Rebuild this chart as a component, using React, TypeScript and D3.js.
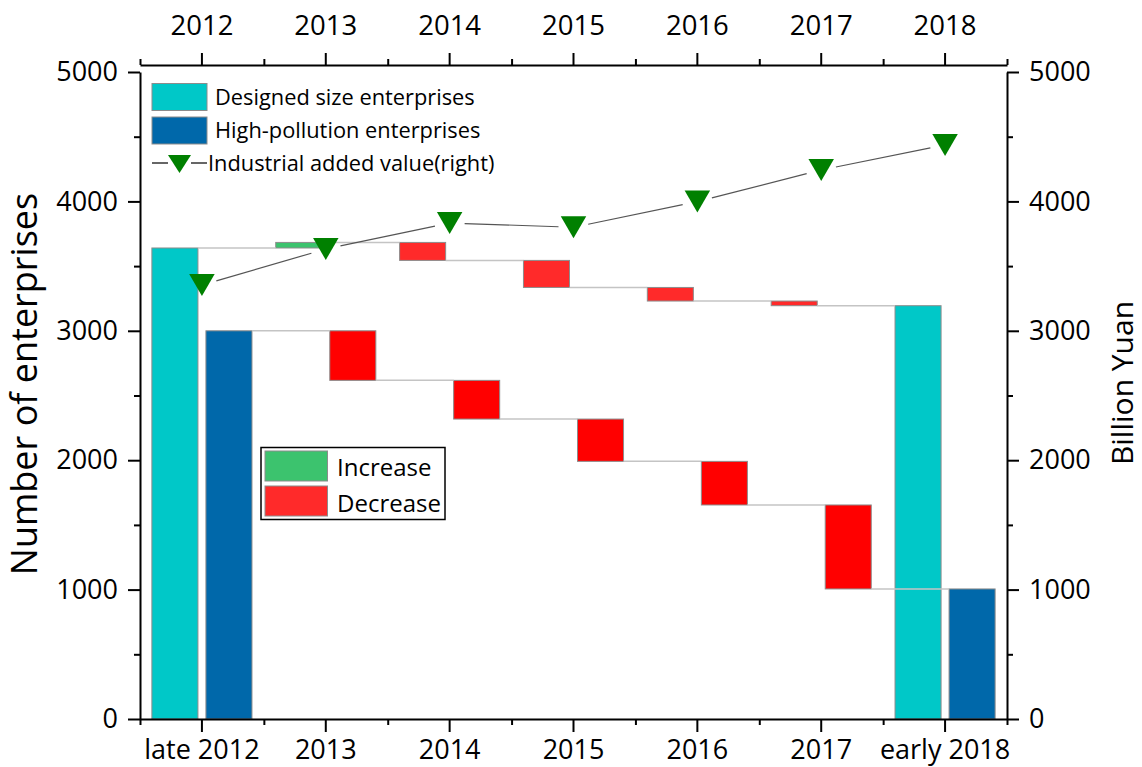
import React, { useEffect, useRef } from "react";
import * as d3 from "d3";

// ---------- data ----------
const categories = ["late 2012", "2013", "2014", "2015", "2016", "2017", "early 2018"];
const topLabels = ["2012", "2013", "2014", "2015", "2016", "2017", "2018"];
// running totals of the two waterfalls (number of enterprises)
const designedLevels = [3640, 3683, 3544, 3335, 3230, 3194, 3194];
const pollutionLevels = [3000, 2617, 2318, 1991, 1654, 1005, 1005];
// industrial added value (billion yuan, right axis)
const addedValue = [3354, 3632, 3833, 3800, 3999, 4243, 4436];
const yMajorTicks = [0, 1000, 2000, 3000, 4000, 5000];
const yMinorTicks = [500, 1500, 2500, 3500, 4500];

const seriesNames = ["designed", "pollution"];

// ---------- layout / style ----------
const W = 1142;
const H = 767;
const X0 = 140;
const X1 = 1007;
const Y0 = 719;
const Y1 = 72;
const TOP_Y = 65;
const FONT = "'Open Sans', 'Noto Sans', 'DejaVu Sans', sans-serif";

const C = {
  designed: "#00C8C8",
  pollution: "#0068AA",
  inc: "#3CC36E",
  decUpper: "#FF2A2A",
  decLower: "#FF0000",
  barStroke: "#8C8C8C",
  connector: "#C4C4C4",
  marker: "#008000",
  line: "#555555",
};

function triPath(cx: number, cy: number, w: number, h: number) {
  return `M${cx - w / 2},${cy - h / 2}L${cx + w / 2},${cy - h / 2}L${cx},${cy + h / 2}Z`;
}

export default function App() {
  const ref = useRef<SVGSVGElement>(null);

  useEffect(() => {
    const svg = d3.select(ref.current);
    svg.selectAll("*").remove();

    const x = d3.scaleBand<string>().domain(categories).range([X0, X1]).padding(0);
    const inner = d3
      .scaleBand<string>()
      .domain(seriesNames)
      .range([0, x.bandwidth()])
      .paddingInner(0.148)
      .paddingOuter(0.22);
    const y = d3.scaleLinear().domain([0, 5000]).range([Y0, Y1]);
    const yR = d3.scaleLinear().domain([0, 5000]).range([Y0, Y1]);
    const xc = (i: number) => (x(categories[i]) as number) + x.bandwidth() / 2;

    const last = categories.length - 1;
    const seriesData = [
      { name: "designed", levels: designedLevels, base: C.designed, dec: C.decUpper },
      { name: "pollution", levels: pollutionLevels, base: C.pollution, dec: C.decLower },
    ];

    const gBars = svg.append("g");
    const gConn = svg.append("g");

    seriesData.forEach((s) => {
      const bars = s.levels.map((lv, i) => {
        const isTotal = i === 0 || i === last;
        const a = isTotal ? 0 : s.levels[i - 1];
        const b = lv;
        const fill = isTotal ? s.base : b > a ? C.inc : s.dec;
        const bx = (x(categories[i]) as number) + (inner(s.name) as number);
        return { bx, a, b, fill };
      });
      gBars
        .selectAll(null)
        .data(bars)
        .enter()
        .append("rect")
        .attr("x", (d) => d.bx)
        .attr("width", inner.bandwidth())
        .attr("y", (d) => y(Math.max(d.a, d.b)))
        .attr("height", (d) => Math.abs(y(d.a) - y(d.b)))
        .attr("fill", (d) => d.fill)
        .attr("stroke", C.barStroke)
        .attr("stroke-width", 1);

      const conns = s.levels.slice(0, last).map((lv, i) => ({
        x1: bars[i].bx + inner.bandwidth(),
        x2: bars[i + 1].bx,
        yv: lv,
      }));
      gConn
        .selectAll(null)
        .data(conns)
        .enter()
        .append("line")
        .attr("x1", (d) => d.x1)
        .attr("x2", (d) => d.x2)
        .attr("y1", (d) => y(d.yv))
        .attr("y2", (d) => y(d.yv))
        .attr("stroke", C.connector)
        .attr("stroke-width", 1.5);
    });

    // line with gaps around markers
    const pts = addedValue.map((v, i) => [xc(i), yR(v)] as [number, number]);
    const gLine = svg.append("g");
    const gap = 15;
    for (let i = 0; i < pts.length - 1; i++) {
      const [ax, ay] = pts[i];
      const [bx, by] = pts[i + 1];
      const len = Math.hypot(bx - ax, by - ay);
      const ux = (bx - ax) / len;
      const uy = (by - ay) / len;
      gLine
        .append("path")
        .attr(
          "d",
          d3.line()([
            [ax + ux * gap, ay + uy * gap],
            [bx - ux * gap, by - uy * gap],
          ]) as string
        )
        .attr("stroke", C.line)
        .attr("stroke-width", 1.2)
        .attr("fill", "none");
    }
    svg
      .append("g")
      .selectAll(null)
      .data(pts)
      .enter()
      .append("path")
      .attr("d", (d) => triPath(d[0], d[1], 25.5, 22))
      .attr("fill", C.marker);

    // ---------- axes ----------
    const styleAxis = (g: any, fs: number) => {
      g.selectAll(".domain").attr("stroke", "#000").attr("stroke-width", 2);
      g.selectAll(".tick line").attr("stroke", "#000").attr("stroke-width", 2);
      g.selectAll("text").attr("font-family", FONT).attr("font-size", fs).attr("fill", "#000");
      g.attr("font-family", FONT);
    };

    const boundaries = [...categories.map((c) => x(c) as number), X1];
    const xLin = d3.scaleLinear().domain([X0, X1]).range([X0, X1]);

    // bottom
    const gB = svg.append("g").attr("transform", `translate(0,${Y0})`);
    gB.call(d3.axisBottom(xLin).tickValues(boundaries).tickSize(6).tickSizeOuter(0).tickFormat(() => ""));
    styleAxis(gB, 27);
    const gB2 = svg.append("g").attr("transform", `translate(0,${Y0})`);
    gB2.call(d3.axisBottom(x).tickSize(13).tickSizeOuter(0).tickPadding(8));
    styleAxis(gB2, 27);
    gB2.select(".domain").remove();

    // top
    const gT = svg.append("g").attr("transform", `translate(0,${TOP_Y})`);
    gT.call(d3.axisTop(xLin).tickValues(boundaries).tickSize(6).tickSizeOuter(0).tickFormat(() => ""));
    styleAxis(gT, 27);
    const gT2 = svg.append("g").attr("transform", `translate(0,${TOP_Y})`);
    gT2.call(
      d3
        .axisTop(x)
        .tickSize(12)
        .tickSizeOuter(0)
        .tickPadding(18)
        .tickFormat((d) => topLabels[categories.indexOf(d as string)])
    );
    styleAxis(gT2, 27.5);
    gT2.select(".domain").remove();

    // left
    const gL = svg.append("g").attr("transform", `translate(${X0},0)`);
    gL.call(d3.axisLeft(y).tickValues(yMinorTicks).tickSize(6).tickSizeOuter(0).tickFormat(() => ""));
    styleAxis(gL, 27);
    const gL2 = svg.append("g").attr("transform", `translate(${X0},0)`);
    gL2.call(d3.axisLeft(y).tickValues(yMajorTicks).tickSize(12).tickSizeOuter(0).tickPadding(10).tickFormat(d3.format("d")));
    styleAxis(gL2, 27);
    gL2.select(".domain").remove();

    // right
    const gR = svg.append("g").attr("transform", `translate(${X1},0)`);
    gR.call(d3.axisRight(yR).tickValues(yMinorTicks).tickSize(6).tickSizeOuter(0).tickFormat(() => ""));
    styleAxis(gR, 27);
    const gR2 = svg.append("g").attr("transform", `translate(${X1},0)`);
    gR2.call(d3.axisRight(yR).tickValues(yMajorTicks).tickSize(12).tickSizeOuter(0).tickPadding(10).tickFormat(d3.format("d")));
    styleAxis(gR2, 27);
    gR2.select(".domain").remove();

    // titles
    svg
      .append("text")
      .attr("transform", `translate(37,384) rotate(-90)`)
      .attr("text-anchor", "middle")
      .attr("font-family", FONT)
      .attr("font-size", 36)
      .text("Number of enterprises");
    svg
      .append("text")
      .attr("transform", `translate(1133,383) rotate(-90)`)
      .attr("text-anchor", "middle")
      .attr("font-family", FONT)
      .attr("font-size", 30)
      .text("Billion Yuan");

    // ---------- legend 1 ----------
    const leg = svg.append("g").attr("font-family", FONT);
    const legItems = [
      { label: "Designed size enterprises", color: C.designed, top: 83.5, base: 105 },
      { label: "High-pollution enterprises", color: C.pollution, top: 117, base: 137.5 },
    ];
    legItems.forEach((it) => {
      leg
        .append("rect")
        .attr("x", 152)
        .attr("y", it.top)
        .attr("width", 55)
        .attr("height", 27)
        .attr("fill", it.color)
        .attr("stroke", C.barStroke)
        .attr("stroke-width", 1);
      leg.append("text").attr("x", 215).attr("y", it.base).attr("font-size", 21.8).text(it.label);
    });
    leg.append("line").attr("x1", 152).attr("x2", 168).attr("y1", 163).attr("y2", 163).attr("stroke", "#333").attr("stroke-width", 1.5);
    leg.append("line").attr("x1", 191).attr("x2", 207).attr("y1", 163).attr("y2", 163).attr("stroke", "#333").attr("stroke-width", 1.5);
    leg.append("path").attr("d", triPath(179.5, 164, 23, 18)).attr("fill", C.marker);
    leg.append("text").attr("x", 208).attr("y", 170.5).attr("font-size", 21.8).text("Industrial added value(right)");

    // ---------- legend 2 ----------
    const leg2 = svg.append("g").attr("font-family", FONT);
    leg2
      .append("rect")
      .attr("x", 261)
      .attr("y", 447.5)
      .attr("width", 184)
      .attr("height", 72)
      .attr("fill", "#fff")
      .attr("stroke", "#000")
      .attr("stroke-width", 1.5);
    const leg2Items = [
      { label: "Increase", color: C.inc, top: 451, base: 476 },
      { label: "Decrease", color: C.decUpper, top: 486, base: 511.5 },
    ];
    leg2Items.forEach((it) => {
      leg2
        .append("rect")
        .attr("x", 265)
        .attr("y", it.top)
        .attr("width", 62.5)
        .attr("height", 30)
        .attr("fill", it.color)
        .attr("stroke", C.barStroke)
        .attr("stroke-width", 1);
      leg2.append("text").attr("x", 337).attr("y", it.base).attr("font-size", 24).text(it.label);
    });
  }, []);

  return (
    <svg
      ref={ref}
      width={W}
      height={H}
      viewBox={`0 0 ${W} ${H}`}
      style={{ position: "absolute", left: 0, top: 0, background: "#fff" }}
    />
  );
}
